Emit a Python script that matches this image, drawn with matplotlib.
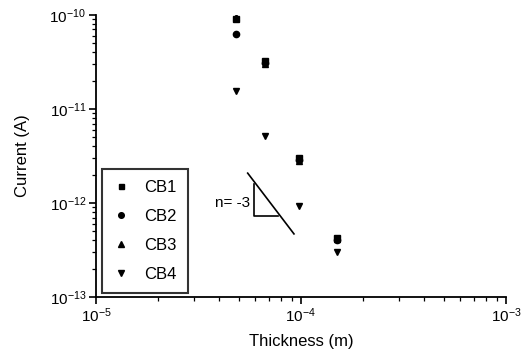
import matplotlib
matplotlib.use("Agg")
import matplotlib.pyplot as plt
from matplotlib.ticker import LogLocator, FixedLocator, NullFormatter

plt.rcParams['font.family'] = ['Liberation Sans', 'DejaVu Sans']
plt.rcParams['mathtext.default'] = 'regular'

thickness = [4.8e-5, 6.7e-5, 9.8e-5, 1.5e-4]
cb1 = [9.0e-11, 3.2e-11, 3.0e-12, 4.3e-13]
cb2 = [6.2e-11, 3.1e-11, 2.9e-12, 4.0e-13]
cb3 = [9.6e-11, 3.0e-11, 2.8e-12, 4.1e-13]
cb4 = [1.55e-11, 5.2e-12, 9.2e-13, 3.0e-13]
series = ['CB1', 'CB2', 'CB3', 'CB4']

slope_line_x = [5.5e-5, 9.25e-5]
slope_line_y = [2.08e-12, 4.7e-13]
tri_x = [5.9e-5, 5.9e-5, 7.7e-5]
tri_y = [1.58e-12, 7.3e-13, 7.3e-13]

fig = plt.figure(figsize=(5.27, 3.55), dpi=100)
ax = fig.add_axes([0.182, 0.163, 0.778, 0.795])

ax.plot(thickness, cb1, linestyle='none', marker='s', ms=4, color='black', label='CB1')
ax.plot(thickness, cb2, linestyle='none', marker='o', ms=4.5, color='black', label='CB2')
ax.plot(thickness, cb3, linestyle='none', marker='^', ms=5, color='black', label='CB3')
ax.plot(thickness, cb4, linestyle='none', marker='v', ms=5, color='black', label='CB4')

ax.plot(slope_line_x, slope_line_y, color='black', lw=1.2)
ax.plot(tri_x, tri_y, color='black', lw=1.2)
ax.text(5.65e-5, 1.0e-12, 'n= -3', ha='right', va='center', fontsize=11)

ax.set_xscale('log')
ax.set_yscale('log')
ax.set_xlim(1e-5, 1e-3)
ax.set_ylim(1e-13, 1e-10)

ax.xaxis.set_major_locator(FixedLocator([1e-5, 1e-4, 1e-3]))
ax.yaxis.set_major_locator(FixedLocator([1e-13, 1e-12, 1e-11, 1e-10]))
ax.set_xticklabels(['$10^{-5}$', '$10^{-4}$', '$10^{-3}$'], fontsize=11)
ax.set_yticklabels(['$10^{-13}$', '$10^{-12}$', '$10^{-11}$', '$10^{-10}$'], fontsize=11)
ax.xaxis.set_minor_locator(LogLocator(base=10, subs=range(2, 10)))
ax.yaxis.set_minor_locator(LogLocator(base=10, subs=range(2, 10)))
ax.xaxis.set_minor_formatter(NullFormatter())
ax.yaxis.set_minor_formatter(NullFormatter())

ax.spines['top'].set_visible(False)
ax.spines['right'].set_visible(False)
ax.spines['left'].set_linewidth(1.3)
ax.spines['bottom'].set_linewidth(1.3)
ax.tick_params(which='major', direction='out', length=5, width=1.2, pad=2)
ax.tick_params(which='minor', direction='out', length=3, width=0.9)

ax.set_xlabel('Thickness (m)', fontsize=12, labelpad=6)
ax.set_ylabel('Current (A)', fontsize=12, labelpad=14)

leg = ax.legend(loc='lower left', bbox_to_anchor=(0.015, 0.015), frameon=True,
                fancybox=False, edgecolor='black', fontsize=12,
                handlelength=1.0, handletextpad=0.9, labelspacing=0.85,
                borderpad=0.65, borderaxespad=0.0, markerscale=0.9)
leg.get_frame().set_linewidth(1.5)

fig.savefig('out.png', dpi=100)
